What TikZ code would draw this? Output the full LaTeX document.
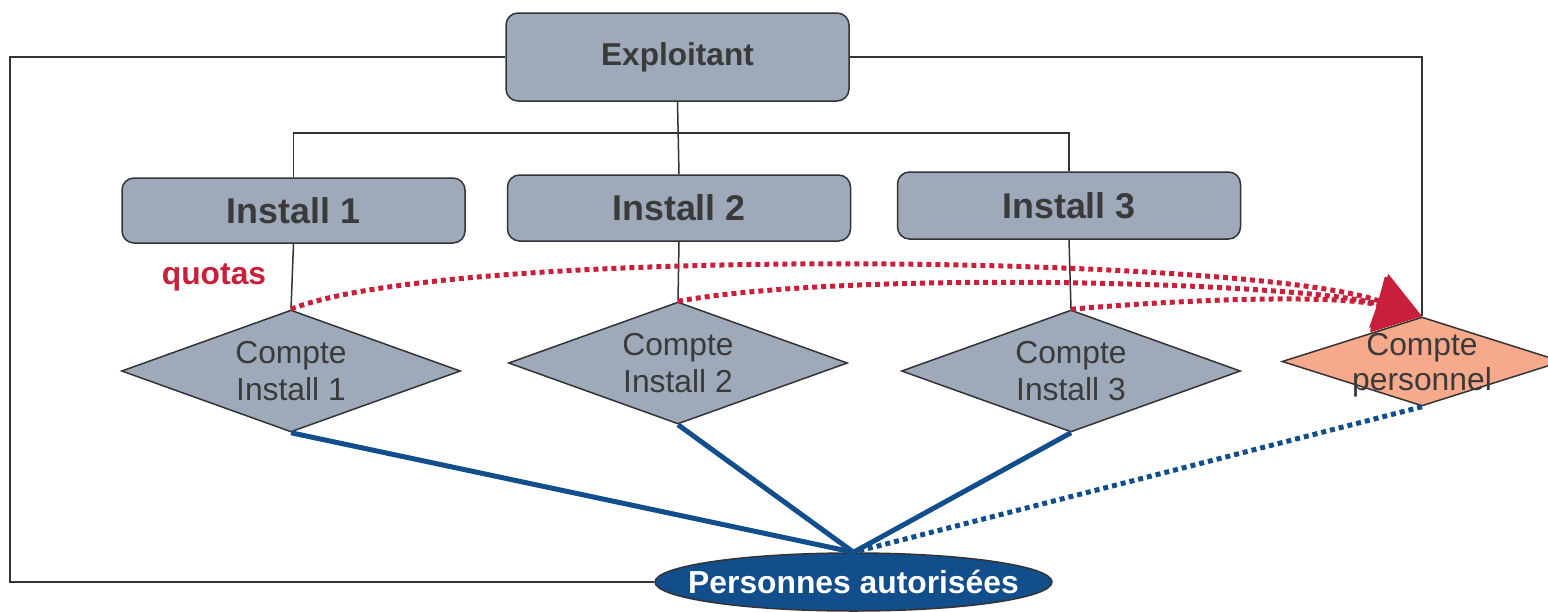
\documentclass[tikz,border=0pt]{standalone}
\usepackage{fontspec}
\setmainfont{Liberation Sans}
\usepackage{xcolor}
\usetikzlibrary{shapes.geometric,arrows.meta}
\definecolor{ColorBox}{HTML}{9EAABA}
\definecolor{ColorTxt}{HTML}{3A3A3A}
\definecolor{ColorRed}{HTML}{C8203A}
\definecolor{ColorBlue}{HTML}{124E8C}
\definecolor{ColorPers}{HTML}{F7A98B}
\definecolor{ColorLine}{HTML}{333333}

\begin{document}
\begin{tikzpicture}[x=0.5pt,y=-0.5pt,
    boite/.style={draw=ColorLine, line width=0.75pt, fill=ColorBox, rounded corners=6pt, text=ColorTxt,
        font=\bfseries\fontsize{17.9}{20}\selectfont, minimum width=171.5pt, inner sep=0pt},
    compte/.style={diamond, draw=ColorLine, line width=0.75pt, fill=ColorBox, text=ColorTxt, aspect=2.78,
        inner sep=0pt, minimum width=169.5pt, minimum height=61pt, align=center,
        font=\fontsize{15.9}{18.5}\selectfont},
    comptetxt/.style={text=ColorTxt, align=center, font=\fontsize{15.9}{17.5}\selectfont},
    lien/.style={ColorLine, line width=0.75pt},
    quota/.style={ColorRed, line width=2.5pt, dash pattern=on 2.5pt off 2pt, -{Triangle[length=23pt,width=28pt]}},
    acces/.style={ColorBlue, line width=2.5pt}]
    %Cadre
    \useasboundingbox (0,0) rectangle (1548,611);
    %Exploitant et installations
    \node[boite, minimum height=44pt, font=\bfseries\fontsize{15.8}{18}\selectfont] (expl) at (677.5,57) {Exploitant};
    \node[boite, minimum height=32.5pt] (inst1) at (293.5,210.5) {Install 1};
    \node[boite, minimum height=33pt] (inst2) at (679,208) {Install 2};
    \node[boite, minimum height=33.5pt] (inst3) at (1069,205.5) {Install 3};
    %Comptes
    \node[compte] (cpt1) at (291,371) {Compte\\Install 1};
    \node[compte] (cpt2) at (678,363) {Compte\\Install 2};
    \node[compte] (cpt3) at (1071,371) {Compte\\Install 3};
    \node[compte, fill=ColorPers, minimum width=140pt, minimum height=44.5pt,
        label={[comptetxt, yshift=-2pt]center:Compte\\personnel}] (pers) at (1422,361.5) {};
    %Personnes
    \node[ellipse, draw=ColorLine, line width=0.75pt, fill=ColorBlue, minimum width=198.5pt, minimum height=29pt,
        inner sep=0pt, label={[text=white, font=\bfseries\fontsize{15.9}{18}\selectfont]center:Personnes autoris\'ees}] (aut) at (853.5,582) {};
    \node[text=ColorRed, font=\bfseries\fontsize{15.9}{18}\selectfont] (quotas) at (214,277) {quotas};
    %Liens
    \coordinate (hub) at (678,133);
    \coordinate (coinG) at (10,57);
    \draw[lien] (expl.south) -- (inst2.north);
    \draw[lien] (inst1.north) |- (hub) -| (inst3.north);
    \draw[lien] (inst1.south) -- (cpt1.north);
    \draw[lien] (inst2.south) -- (cpt2.north);
    \draw[lien] (inst3.south) -- (cpt3.north);
    \draw[lien] (expl.west) -- (coinG) |- (aut.west);
    \draw[lien] (expl.east) -| (pers.north);
    %Quotas
    \draw[quota] (cpt1.north) .. controls (450,245) and (1250,255) .. (pers.north);
    \draw[quota] (cpt2.north) .. controls (850,270) and (1300,282) .. (pers.north);
    \draw[quota] (cpt3.north) .. controls (1200,298) and (1340,295) .. (pers.north);
    %Acces
    \foreach \c in {cpt1,cpt2,cpt3}
        \draw[acces] (\c.south) -- (aut.north);
    \draw[acces, dash pattern=on 2.5pt off 2pt] (pers.south) -- (aut.north);
\end{tikzpicture}
\end{document}
